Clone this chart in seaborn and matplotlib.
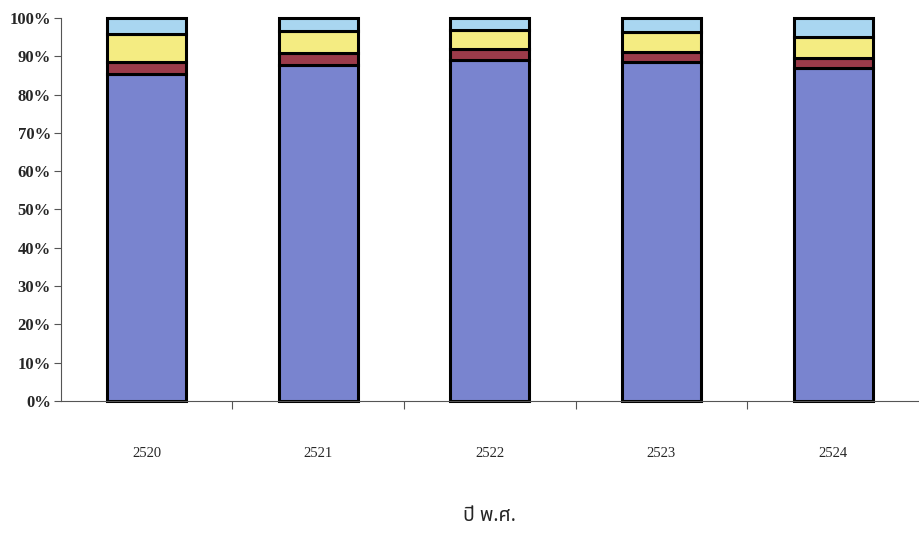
import numpy as np
import pandas as pd
import matplotlib
matplotlib.use("Agg")
import matplotlib.pyplot as plt
import seaborn as sns
from matplotlib.ticker import FixedLocator, PercentFormatter

# ข้อมูล (ร้อยละ)
years = ["2520", "2521", "2522", "2523", "2524"]
blue = [85.3, 87.8, 89.0, 88.6, 86.9]
red = [3.3, 3.1, 2.8, 2.5, 2.6]
yellow = [7.1, 5.6, 5.1, 5.3, 5.5]
light_blue = [4.3, 3.5, 3.1, 3.6, 5.0]

series = [blue, red, yellow, light_blue]
colors = ["#7984cf", "#9b3b4a", "#f4ec82", "#a9d6f0"]

sns.set_theme(style="white")
plt.rcParams['font.family'] = ['Liberation Serif', 'DejaVu Serif']

fig = plt.figure(figsize=(9.19, 5.44), dpi=100)
ax = fig.add_axes([0.066, 0.263, 0.934, 0.704])

bottom = np.zeros(len(years))
for vals, col in zip(series, colors):
    df = pd.DataFrame({'year': years, 'val': vals})
    sns.barplot(data=df, x='year', y='val', bottom=bottom, color=col,
                width=0.46, edgecolor='black', linewidth=2.2, ax=ax,
                saturation=1)
    bottom = bottom + np.array(vals)

for p in ax.patches:
    p.set_clip_on(False)

ax.set_xlim(-0.5, len(years) - 0.5)
ax.set_ylim(0, 100)
ax.set_yticks(np.arange(0, 101, 10))
ax.yaxis.set_major_formatter(PercentFormatter(decimals=0))
for lab in ax.get_yticklabels():
    lab.set_fontweight('bold')
ax.tick_params(axis='y', labelsize=12, length=5, width=0.8, color='#555555',
               left=True, direction='out', pad=2)

# ขีดแกน x อยู่ระหว่างกลุ่ม
ax.xaxis.set_minor_locator(FixedLocator(np.arange(0.5, len(years) - 1, 1)))
ax.tick_params(axis='x', which='major', length=0, labelsize=10.5, pad=33)
ax.tick_params(axis='x', which='minor', length=6, width=0.8, color='#555555',
               bottom=True, direction='out')

ax.set_xlabel('ปี พ.ศ.', fontsize=14, fontweight='bold', labelpad=33,
              family=['Noto Sans Thai', 'Loma', 'Garuda', 'Tlwg Typo', 'DejaVu Sans'])
ax.set_ylabel('')

for side in ['top', 'right']:
    ax.spines[side].set_visible(False)
for side in ['left', 'bottom']:
    ax.spines[side].set_color('#555555')
    ax.spines[side].set_linewidth(0.8)

fig.savefig('out.png', dpi=100)
